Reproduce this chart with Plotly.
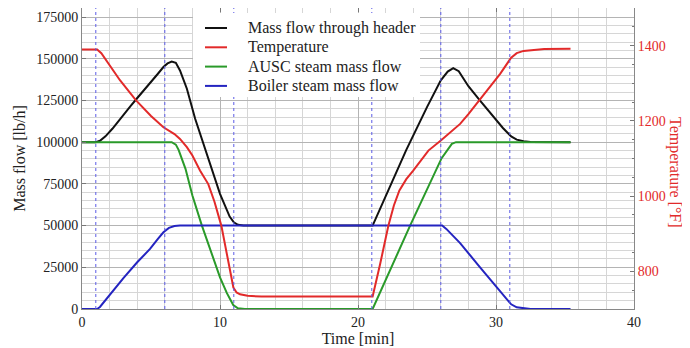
import plotly.graph_objects as go

# Mass flow through header [lb/h]
t_header = [0, 1.0, 1.3, 1.7, 2.2, 2.75, 3.5, 3.9, 4.5, 5.0, 5.5, 5.9, 6.2, 6.5, 6.8, 7.1,
            7.6, 8.2, 8.7, 9.4, 10.0, 10.7, 11.0, 11.3, 11.7, 21.06, 23.5, 25.0, 26.0,
            26.5, 26.9, 27.3, 28.0, 28.8, 29.6, 30.5, 31.1, 31.5, 32.0, 32.5, 35.4]
m_header = [100000, 100000, 100800, 103500, 108000, 114000, 121500, 125400, 131000, 136000,
            141000, 145000, 147200, 148300, 147500, 143000, 132000, 114000, 101500, 83400,
            69000, 55400, 52000, 50500, 50000, 50000, 95400, 121000, 137000, 142300, 144400,
            142500, 133500, 125400, 117400, 108500, 103400, 101500, 100500, 100100, 100000]

# Temperature [F]
t_temp = [0, 1.1, 1.4, 2.0, 2.75, 3.9, 5.0, 5.9, 6.3, 6.7, 7.1, 7.6, 8.0, 8.55, 9.15, 9.6,
          10.1, 10.6, 10.97, 11.2, 11.45, 12.0, 13.0, 21.06, 21.3, 21.6, 22.2, 22.6, 23.0,
          23.5, 24.0, 25.1, 26.0, 26.7, 27.4, 28.0, 28.8, 29.6, 30.3, 31.1, 31.5, 32.0, 32.5,
          33.5, 35.4]
temp = [1390, 1390, 1380, 1348, 1308, 1255, 1213, 1183, 1173, 1165, 1152, 1130, 1108, 1068,
        1032, 985, 921, 828, 757, 744, 739, 735, 733, 733, 775, 819, 921, 975, 1015, 1045,
        1068, 1121, 1148, 1170, 1192, 1218, 1255, 1290, 1325, 1368, 1380, 1386, 1388, 1391,
        1392]

# AUSC steam mass flow [lb/h]
t_ausc = [0, 6.5, 6.8, 7.0, 7.5, 8.0, 8.67, 9.3, 10.0, 10.5, 10.96, 11.3, 11.8, 21.06,
          23.8, 26.06, 26.5, 26.8, 27.1, 35.4]
m_ausc = [100000, 100000, 98500, 95400, 84000, 68000, 50400, 35000, 19000, 9500, 2400, 400,
          0, 0, 50400, 90400, 96000, 99000, 100000, 100000]

# Boiler steam mass flow [lb/h]
t_boiler = [0, 1.1, 1.3, 2.0, 3.0, 4.0, 4.93, 5.5, 5.9, 6.3, 6.7, 7.1, 26.1, 26.4, 27.4,
            28.8, 30.0, 30.8, 31.1, 31.5, 32.0, 32.5, 35.4]
m_boiler = [0, 0, 1200, 8500, 18500, 28000, 36000, 42000, 46000, 48600, 49700, 50000, 50000,
            48000, 39500, 25400, 13500, 5500, 2800, 1000, 300, 0, 0]

event_times = [1, 6, 11, 21, 26, 31]

series_names = ["Mass flow through header", "Temperature", "AUSC steam mass flow",
                "Boiler steam mass flow"]

SERIF = "Liberation Serif, Times New Roman, serif"
RED = "#e22a2a"
colors = ["#111111", RED, "#2a9a2a", "#2424c0"]

# the page body adds an 8px offset, so the figure is drawn 8px smaller
OFF = 8
W, H = 690 - OFF, 348 - OFF
# plot area in window pixels
L, R, T, B = 82, 634, 8, 309


def px(x):
    return (x - L) / (R - L)


def py(y):
    return 1 - (y - T) / (B - T)


fig = go.Figure()
fig.add_trace(go.Scatter(x=t_header, y=m_header, mode="lines", name=series_names[0],
                         line=dict(color=colors[0], width=2)))
fig.add_trace(go.Scatter(x=t_temp, y=temp, mode="lines", name=series_names[1], yaxis="y2",
                         line=dict(color=colors[1], width=2)))
fig.add_trace(go.Scatter(x=t_ausc, y=m_ausc, mode="lines", name=series_names[2],
                         line=dict(color=colors[2], width=2)))
fig.add_trace(go.Scatter(x=t_boiler, y=m_boiler, mode="lines", name=series_names[3],
                         line=dict(color=colors[3], width=2)))

# event markers
for te in event_times:
    fig.add_shape(type="line", xref="x", yref="paper", x0=te, x1=te, y0=0, y1=1,
                  line=dict(color="#5a5ae6", width=1, dash="dot"), layer="above")

# legend box
fig.add_shape(type="rect", xref="paper", yref="paper", x0=px(193), x1=px(420),
              y0=py(97), y1=py(13), fillcolor="white", line=dict(width=0), layer="above")
for i, (name, c) in enumerate(zip(series_names, colors)):
    yy = 28 + i * 19.3
    fig.add_shape(type="line", xref="paper", yref="paper", x0=px(205), x1=px(227),
                  y0=py(yy), y1=py(yy), line=dict(color=c, width=2), layer="above")
    fig.add_annotation(text=name, x=px(246), y=py(yy), xref="paper", yref="paper",
                       xanchor="left", yanchor="middle", showarrow=False,
                       font=dict(family=SERIF, size=16, color="#222222"))

fig.add_annotation(text="Temperature [°F]", x=px(675), y=py(172), xref="paper", yref="paper",
                   xanchor="center", yanchor="middle", textangle=90, showarrow=False,
                   font=dict(family=SERIF, size=16, color=RED))

fig.update_layout(
    width=W, height=H,
    margin=dict(l=L - OFF, r=W - (R - OFF), t=T - OFF, b=H - (B - OFF)),
    paper_bgcolor="white", plot_bgcolor="white",
    font=dict(family=SERIF, size=14, color="#222222"),
    showlegend=False,
    xaxis=dict(range=[0, 40], dtick=10, tick0=0, showgrid=True, gridcolor="#b4b4b4",
               gridwidth=1, minor=dict(dtick=2, showgrid=True, gridcolor="#d6d6d6"),
               ticks="inside", ticklen=4, tickcolor="#777", showline=True, linecolor="#888",
               mirror="ticks", zeroline=False, automargin=False,
               title=dict(text="Time [min]", font=dict(size=16), standoff=1)),
    yaxis=dict(range=[0, 180400], dtick=25000, tick0=0, showgrid=True, gridcolor="#b4b4b4",
               minor=dict(dtick=5000, showgrid=True, gridcolor="#d6d6d6"),
               ticks="inside", ticklen=4, tickcolor="#777", showline=True, linecolor="#888",
               zeroline=False, tickformat="d", automargin=False,
               title=dict(text="Mass flow [lb/h]", font=dict(size=16), standoff=6)),
    yaxis2=dict(range=[700, 1500], dtick=200, tick0=800, overlaying="y", side="right",
                showgrid=False, ticks="inside", ticklen=4, tickcolor="#777",
                minor=dict(dtick=50, ticks="inside", ticklen=2, tickcolor="#777"),
                showline=True, linecolor="#888", zeroline=False, automargin=False,
                tickfont=dict(color=RED, size=14)),
)

fig.write_html("out.html")
